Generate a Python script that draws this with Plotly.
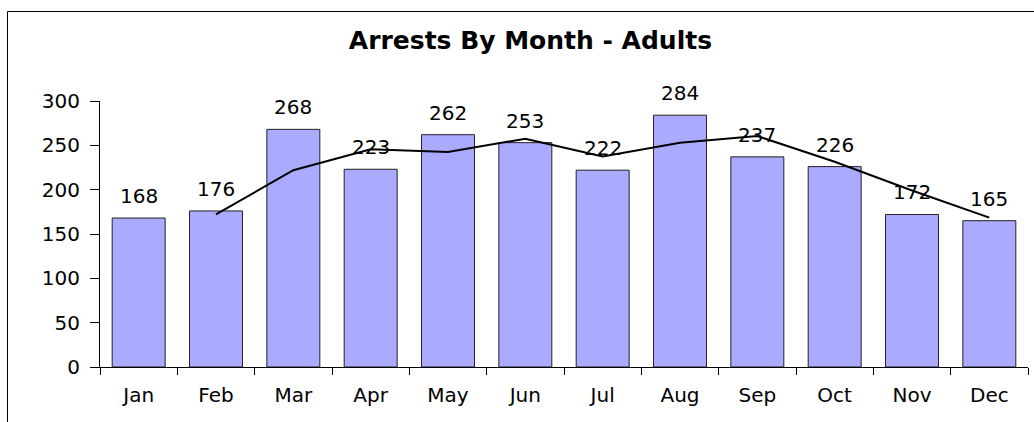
import plotly.graph_objects as go

months = ["Jan", "Feb", "Mar", "Apr", "May", "Jun", "Jul", "Aug", "Sep", "Oct", "Nov", "Dec"]
arrests = [168, 176, 268, 223, 262, 253, 222, 284, 237, 226, 172, 165]
trend_months = ["Feb", "Mar", "Apr", "May", "Jun", "Jul", "Aug", "Sep", "Oct", "Nov", "Dec"]
trend_values = [172, 222, 245.5, 242.5, 257.5, 237.5, 253, 260.5, 231.5, 199, 168.5]
y_ticks = [0, 50, 100, 150, 200, 250, 300]

FONT = "DejaVu Sans"

fig = go.Figure()
fig.add_trace(go.Bar(
    x=months, y=arrests,
    marker=dict(color="#AAAAFF", line=dict(color="#222222", width=1)),
    showlegend=False, hoverinfo="x+y",
))
fig.add_trace(go.Scatter(
    x=trend_months, y=trend_values, mode="lines",
    line=dict(color="black", width=2),
    showlegend=False, hoverinfo="skip",
))

for m, v in zip(months, arrests):
    fig.add_annotation(
        x=m, y=v, text=str(v), showarrow=False,
        yanchor="bottom", xanchor="center", yshift=8,
        font=dict(family=FONT, size=20, color="black"),
    )

# chart-area frame (extends beyond the visible window on the right and bottom)
fig.add_shape(
    type="rect", xref="paper", yref="paper",
    x0=-0.09968, x1=1.02, y0=-0.3, y1=1.3365,
    line=dict(color="black", width=1), fillcolor="rgba(0,0,0,0)",
    layer="below",
)

fig.update_layout(
    width=1034, height=422,
    margin=dict(l=100, r=6, t=101, b=55),
    paper_bgcolor="white", plot_bgcolor="white",
    bargap=0.315,
    title=dict(
        text="<b>Arrests By Month - Adults</b>",
        x=0.513, xref="container", xanchor="center",
        y=0.905, yref="container", yanchor="middle",
        font=dict(family=FONT, size=25, color="black"),
    ),
    font=dict(family=FONT, size=20, color="black"),
)
fig.update_xaxes(
    type="category", categoryorder="array", categoryarray=months,
    automargin=False,
    showline=True, linecolor="black", linewidth=1,
    ticks="outside", tickson="boundaries", ticklen=7, tickcolor="black", tickwidth=1,
    ticklabelstandoff=10,
    showgrid=False, zeroline=False,
    tickfont=dict(family=FONT, size=20, color="black"),
)
fig.update_yaxes(
    range=[0, 300], tickvals=y_ticks,
    automargin=False,
    showline=True, linecolor="black", linewidth=1,
    ticks="outside", ticklen=9, tickcolor="black", tickwidth=1,
    ticklabelstandoff=6,
    showgrid=False, zeroline=False,
    tickfont=dict(family=FONT, size=20, color="black"),
)

fig.write_html(
    "out.html",
    config={"displayModeBar": False},
    post_script="document.body.style.margin='0';document.body.style.overflow='hidden';",
)
